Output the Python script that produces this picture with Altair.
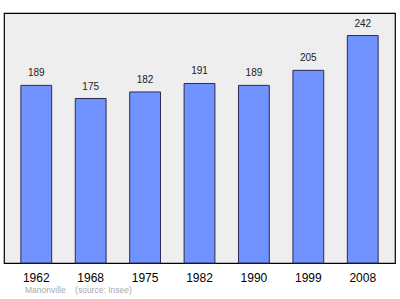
import altair as alt
import pandas as pd

years = ["1962", "1968", "1975", "1982", "1990", "1999", "2008"]
population = [189, 175, 182, 191, 189, 205, 242]

df = pd.DataFrame({"year": years, "pop": population})

x = alt.X("year:N", sort=years,
          scale=alt.Scale(paddingInner=0.434, paddingOuter=0.31),
          axis=alt.Axis(title=None, labelAngle=0, ticks=False, domain=False,
                        labelPadding=9, labelFontSize=12, labelColor="#000000",
                        labelFont="Liberation Sans"))
y = alt.Y("pop:Q", scale=alt.Scale(domain=[0, 266], nice=False, zero=True), axis=None)

bars = alt.Chart(df).mark_bar(color="#7093ff", stroke="#2a2a50", strokeWidth=1).encode(x=x, y=y)
labels = alt.Chart(df).mark_text(baseline="alphabetic", dy=-9, fontSize=10,
                                 font="Liberation Sans", color="#222222").encode(
    x=x, y=y, text="pop:Q")

chart = (bars + labels).properties(
    width=391, height=250,
    autosize=alt.AutoSizeParams(type="none"),
    padding={"left": 4, "top": 13, "right": 5, "bottom": 36},
    title=alt.TitleParams(text="Manonville\u00a0\u00a0\u00a0\u00a0(source: Insee)", orient="bottom",
                          anchor="start", fontSize=8.5, fontWeight="normal",
                          font="Liberation Sans", color="#aaaaaa", offset=3, dx=21),
).configure_view(fill="#eeeeee", stroke="#000000", strokeWidth=1.2)

chart.save("out.html", embed_options={"renderer": "svg", "actions": False})
